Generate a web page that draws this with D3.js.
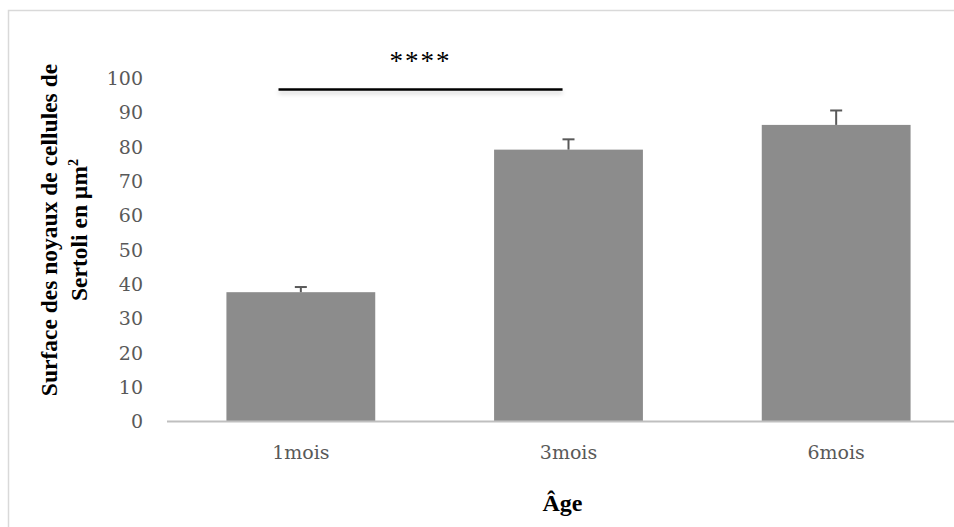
<!DOCTYPE html>
<html>
<head>
<meta charset="utf-8">
<script src="https://cdn.jsdelivr.net/npm/d3@7"></script>
<style>
  html, body { margin: 0; padding: 0; background: #fff; }
  svg { display: block; }
</style>
</head>
<body>
<svg id="chart" width="954" height="527"></svg>
<script>
// Mean surface of Sertoli cell nuclei by age, with standard error
const categories = ["1mois", "3mois", "6mois"];
const means = [37.5, 79, 86.2];
const errors = [1.5, 3, 4.2];
const yTicks = [0, 10, 20, 30, 40, 50, 60, 70, 80, 90, 100];
const yTitleLines = ["Surface des noyaux de cellules de", "Sertoli en µm"];
const xTitle = "Âge";
const significance = { from: "1mois", to: "3mois", level: 96.5, label: "****" };

const svg = d3.select("#chart");
const W = 954, H = 527;
const margin = { left: 167, right: -16, top: 77.5, bottom: 106 };

const x = d3.scaleBand()
  .domain(categories)
  .range([margin.left, W - margin.right])
  .paddingInner(0.444)
  .paddingOuter(0.222);

const y = d3.scaleLinear()
  .domain([0, 100])
  .range([H - margin.bottom, margin.top]);

// chart area frame
svg.append("rect")
  .attr("x", 8.5).attr("y", 10.5)
  .attr("width", W + 20).attr("height", H + 20)
  .attr("fill", "none")
  .attr("stroke", "#d9d9d9")
  .attr("stroke-width", 1.5);

const defs = svg.append("defs");
const shadow = defs.append("filter").attr("id", "lineShadow")
  .attr("filterUnits", "userSpaceOnUse")
  .attr("x", 0).attr("y", 0).attr("width", W).attr("height", H);
shadow.append("feDropShadow")
  .attr("dx", 0).attr("dy", 3).attr("stdDeviation", 2)
  .attr("flood-color", "#000").attr("flood-opacity", 0.18);

// y axis labels (no axis line)
const yAxis = d3.axisLeft(y).tickValues(yTicks).tickSize(0).tickPadding(0);
const gy = svg.append("g")
  .attr("transform", `translate(${143},0)`)
  .call(yAxis);
gy.select(".domain").remove();
gy.selectAll("text")
  .attr("font-family", "'DejaVu Serif', serif")
  .attr("font-size", 19)
  .attr("fill", "#595959")
  .attr("dy", "0.36em");

// bars
svg.append("g").selectAll("rect")
  .data(categories)
  .join("rect")
  .attr("x", d => x(d))
  .attr("y", (d, i) => y(means[i]))
  .attr("width", x.bandwidth())
  .attr("height", (d, i) => y(0) - y(means[i]))
  .attr("fill", "#8c8c8c");

// error bars (upper half)
const eb = svg.append("g").attr("stroke", "#595959").attr("stroke-width", 2);
categories.forEach((c, i) => {
  const cx = x(c) + x.bandwidth() / 2;
  eb.append("line")
    .attr("x1", cx).attr("x2", cx)
    .attr("y1", y(means[i])).attr("y2", y(means[i] + errors[i]));
  eb.append("line")
    .attr("x1", cx - 6).attr("x2", cx + 6)
    .attr("y1", y(means[i] + errors[i])).attr("y2", y(means[i] + errors[i]));
});

// x axis baseline and category labels
const xAxis = d3.axisBottom(x).tickSize(0).tickPadding(0);
const gx = svg.append("g")
  .attr("transform", `translate(0,${y(0)})`)
  .call(xAxis);
gx.select(".domain").remove();
svg.append("line")
  .attr("x1", margin.left).attr("x2", W + 20)
  .attr("y1", y(0) + 0.5).attr("y2", y(0) + 0.5)
  .attr("stroke", "#bfbfbf").attr("stroke-width", 2);
gx.selectAll("text")
  .attr("font-family", "'DejaVu Serif', serif")
  .attr("font-size", 19)
  .attr("fill", "#595959")
  .attr("y", 31)
  .attr("dy", "0.36em");

// significance bar
const sx1 = x(significance.from) + x.bandwidth() * 0.35;
const sx2 = x(significance.to) + x.bandwidth() * 0.46;
svg.append("line")
  .attr("x1", sx1).attr("x2", sx2)
  .attr("y1", y(significance.level)).attr("y2", y(significance.level))
  .attr("stroke", "#000").attr("stroke-width", 2.5)
  .attr("filter", "url(#lineShadow)");
svg.append("text")
  .attr("x", (sx1 + sx2) / 2)
  .attr("y", y(significance.level) - 20)
  .attr("text-anchor", "middle")
  .attr("font-family", "'Liberation Serif', serif")
  .attr("font-size", 27)
  .attr("letter-spacing", 2)
  .attr("fill", "#000")
  .text(significance.label);

// y axis title
const yt = svg.append("text")
  .attr("transform", `translate(0,230) rotate(-90)`)
  .attr("text-anchor", "middle")
  .attr("font-family", "'Liberation Serif', serif")
  .attr("font-weight", "bold")
  .attr("font-size", 23.5)
  .attr("fill", "#000");
yt.append("tspan").attr("x", 0).attr("y", 57).text(yTitleLines[0]);
const l2 = yt.append("tspan").attr("x", 0).attr("y", 87).text(yTitleLines[1]);
l2.append("tspan").attr("dy", -9).attr("font-size", 14).text("2");

// x axis title
svg.append("text")
  .attr("x", x("3mois") + x.bandwidth() / 2 - 6)
  .attr("y", 511)
  .attr("text-anchor", "middle")
  .attr("font-family", "'Liberation Serif', serif")
  .attr("font-weight", "bold")
  .attr("font-size", 24)
  .attr("fill", "#000")
  .text(xTitle);
</script>
</body>
</html>
